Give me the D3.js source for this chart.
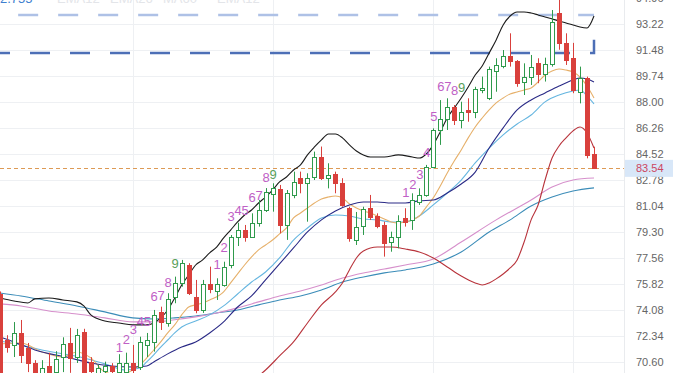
<!DOCTYPE html>
<html>
<head>
<meta charset="utf-8">
<script src="https://cdn.jsdelivr.net/npm/d3@7/dist/d3.min.js"></script>
<style>
  html, body { margin: 0; padding: 0; background: #fff; overflow: hidden; }
  svg { display: block; font-family: "Liberation Sans", Arial, sans-serif; }
</style>
</head>
<body>
<svg id="chart"></svg>
<script>
// candles, index 0..85 (left to right)
const opens = [75.15, 72.03, 71.71, 72.52, 71.51, 70.5, 69.5, 70.3, 69.9, 70.9,
  71.85, 70.9, 72.59, 70.6, 69.7, 70.0, 70.3, 69.9, 69.9, 70.51,
  70.27, 71.72, 71.94, 73.95, 73.21, 74.95, 75.89, 77.07, 74.95, 74.06,
  75.8, 75.35, 75.73, 77.07, 78.93, 79.42, 78.97, 79.86, 80.75, 81.82,
  82.14, 79.75, 81.76, 82.88, 82.58, 82.98, 84.28, 82.88, 83.16, 82.54,
  80.87, 78.75, 79.68, 80.87, 80.35, 79.75, 78.63, 78.97, 80.2, 80.08,
  81.31, 81.76, 83.65, 86.11, 86.82, 87.67, 86.78, 87.45, 87.33, 88.79,
  88.23, 90.08, 90.39, 91.06, 90.75, 89.33, 89.63, 90.62, 89.88, 90.51,
  93.94, 91.94, 90.91, 88.67, 89.57, 84.5];
const highs = [75.3, 72.37, 73.25, 73.39, 71.85, 70.7, 70.7, 71.2, 71.3, 72.23,
  72.86, 72.79, 72.8, 70.9, 70.4, 70.6, 70.5, 71.1, 71.2, 71.72,
  72.27, 72.52, 74.06, 74.28, 75.18, 76.29, 77.41, 77.19, 76.07, 76.07,
  76.96, 76.18, 77.29, 79.08, 79.9, 79.75, 80.53, 81.42, 82.22, 82.54,
  82.43, 82.09, 83.32, 83.32, 83.21, 84.66, 85.0, 83.88, 83.32, 82.88,
  80.97, 80.62, 80.97, 81.76, 80.53, 79.97, 79.3, 80.4, 80.87, 81.87,
  82.2, 83.77, 86.22, 88.11, 88.23, 87.78, 88.0, 88.23, 89.0, 89.68,
  90.35, 90.91, 91.46, 92.58, 90.79, 90.57, 91.13, 90.91, 90.95, 94.14,
  95.2, 92.58, 91.94, 90.35, 89.68, 84.99];
const lows = [69.8, 71.2, 70.91, 70.51, 69.9, 69.5, 69.3, 69.5, 69.6, 69.9,
  69.85, 70.51, 69.6, 69.7, 69.5, 69.7, 69.8, 69.7, 69.7, 69.84,
  70.04, 70.91, 71.27, 72.72, 72.94, 74.51, 75.62, 75.06, 73.84, 73.86,
  75.18, 74.73, 75.62, 76.85, 78.34, 78.63, 78.93, 79.64, 80.62, 80.64,
  79.19, 78.75, 81.54, 81.87, 79.97, 82.76, 82.76, 82.2, 81.87, 80.97,
  78.63, 78.41, 79.08, 80.08, 79.53, 77.63, 77.96, 78.19, 79.64, 79.42,
  81.09, 81.64, 83.55, 85.11, 86.11, 86.44, 86.22, 86.66, 86.9, 88.57,
  88.11, 88.67, 90.24, 90.35, 89.0, 88.45, 89.12, 89.24, 89.35, 90.35,
  91.48, 90.46, 88.57, 87.89, 84.21, 83.54];
const closes = [69.9, 71.56, 72.52, 71.05, 70.51, 69.7, 70.2, 69.9, 70.8, 71.77,
  70.85, 72.38, 69.9, 70.0, 70.2, 70.3, 70.0, 70.5, 70.5, 70.04,
  71.94, 72.05, 73.73, 73.28, 74.78, 75.89, 77.23, 75.22, 74.06, 75.8,
  75.45, 75.8, 76.96, 78.97, 79.42, 78.97, 79.86, 80.75, 81.96, 82.2,
  79.75, 81.87, 82.65, 82.54, 82.88, 84.32, 82.88, 83.1, 82.54, 81.09,
  78.86, 79.62, 80.8, 80.27, 79.68, 78.56, 78.97, 80.0, 79.97, 81.42,
  81.76, 83.65, 86.11, 86.82, 87.63, 86.78, 87.33, 87.3, 88.83, 88.9,
  90.17, 90.46, 91.06, 90.75, 89.27, 89.68, 90.35, 89.84, 90.51, 93.34,
  91.94, 90.79, 88.79, 89.57, 84.44, 83.54];

// indicator lines: [candle index, price]
const upperBand = [[0, 74.86], [2, 74.66], [4, 74.53], [5, 74.8], [7, 74.86], [9, 74.73],
  [11, 74.6], [12, 74.33], [13, 73.73], [15, 73.32], [17, 73.19], [19, 73.06], [21, 73.06],
  [22, 73.19], [23, 73.53], [24, 74.06], [25, 74.86], [26, 75.73], [27, 76.4], [28, 77.07],
  [29, 77.41], [30, 77.88], [31, 78.27], [32, 78.88], [33, 79.41], [34, 79.95], [35, 80.42],
  [36, 80.75], [37, 81.22], [38, 81.62], [39, 82.09], [40, 82.63], [41, 82.96], [42, 83.43],
  [43, 83.77], [44, 84.44], [45, 84.97], [46, 85.44], [47, 85.84], [48, 85.84], [49, 85.58],
  [50, 85.11], [51, 84.7], [52, 84.44], [53, 84.3], [55, 84.3], [57, 84.44], [59, 84.3],
  [60, 84.23], [61, 84.5], [62, 85.11], [63, 85.98], [64, 86.91], [65, 87.58], [66, 88.25],
  [67, 88.99], [68, 89.79], [69, 90.39], [70, 91.26], [71, 92.14], [72, 93.14], [73, 93.74],
  [74, 94.01], [75, 94.01], [76, 93.94], [77, 93.81], [78, 93.67], [79, 93.54], [80, 93.41],
  [81, 93.27], [82, 93.14], [83, 93.0], [84, 92.94], [85, 93.74]];
const midBand = [[0, 72.25], [2, 71.92], [5, 71.38], [10, 70.85], [13, 70.51], [16, 70.31],
  [19, 70.24], [21, 70.31], [22, 70.58], [24, 71.12], [26, 71.58], [28, 71.92], [30, 72.52],
  [32, 73.26], [34, 74.26], [36, 75.0], [38, 76.07], [40, 77.14], [42, 78.21], [44, 79.28],
  [46, 80.09], [48, 80.69], [50, 81.09], [52, 81.29], [54, 81.29], [56, 81.22], [58, 81.22],
  [60, 81.36], [62, 81.42], [64, 81.89], [66, 82.49], [68, 83.29], [70, 84.9], [72, 86.25],
  [74, 87.45], [76, 88.12], [78, 88.59], [80, 89.05], [82, 89.45], [83, 89.59], [84, 89.52],
  [85, 89.32]];
const lowerBand = [[37, 69.64], [38, 70.04], [40, 70.98], [42, 71.92], [44, 73.19], [46, 74.4],
  [48, 75.27], [49, 75.87], [50, 76.74], [51, 77.54], [52, 78.01], [54, 78.27], [56, 78.27],
  [58, 78.14], [60, 77.94], [62, 77.54], [64, 76.94], [66, 76.33], [68, 75.87], [69, 75.73],
  [70, 75.87], [71, 76.14], [72, 76.47], [73, 76.87], [74, 77.41], [75, 78.61], [76, 80.09],
  [77, 81.09], [78, 82.76], [79, 84.23], [80, 85.04], [81, 85.58], [82, 86.05], [83, 86.31],
  [84, 85.91], [85, 84.9]];
const ma5 = [[0, 71.78], [3, 71.85], [6, 71.25], [9, 70.91], [11, 71.25], [13, 70.85], [15, 69.91],
  [17, 69.71], [19, 70.04], [20, 70.38], [21, 70.85], [22, 71.38], [23, 71.92], [24, 72.52],
  [25, 73.06], [26, 73.73], [27, 74.26], [28, 74.4], [29, 74.53], [30, 74.73], [32, 75.27],
  [33, 75.87], [34, 76.47], [35, 77.07], [36, 77.61], [37, 78.08], [38, 78.41], [39, 78.74],
  [40, 79.15], [41, 79.55], [42, 80.22], [43, 80.55], [44, 80.89], [45, 81.22], [46, 81.49],
  [47, 81.62], [48, 81.69], [49, 81.56], [50, 81.16], [51, 80.89], [52, 80.69], [53, 80.55],
  [54, 80.35], [55, 80.15], [56, 79.95], [57, 79.88], [58, 79.95], [59, 80.09], [60, 80.35],
  [61, 80.95], [62, 81.56], [63, 82.36], [64, 83.23], [65, 84.03], [66, 84.77], [67, 85.58],
  [68, 86.31], [69, 86.91], [70, 87.45], [71, 87.92], [72, 88.25], [73, 88.52], [74, 88.65],
  [75, 88.79], [76, 88.92], [77, 89.32], [78, 89.79], [79, 90.06], [80, 90.19], [81, 90.12],
  [82, 89.99], [83, 89.65], [84, 89.05], [85, 88.25]];
const ma10 = [[0, 71.98], [3, 71.72], [6, 71.38], [9, 71.12], [12, 70.85], [15, 70.45], [18, 70.04],
  [20, 70.18], [21, 70.58], [22, 71.05], [23, 71.58], [24, 72.05], [25, 72.52], [26, 72.92],
  [28, 73.32], [30, 73.73], [32, 74.33], [34, 75.13], [36, 75.93], [38, 76.6], [40, 77.54],
  [42, 78.74], [44, 79.55], [46, 80.22], [48, 80.42], [50, 80.35], [52, 80.15], [54, 80.09],
  [56, 79.95], [58, 79.95], [60, 80.35], [62, 81.09], [64, 81.89], [66, 82.76], [68, 83.9],
  [70, 84.9], [72, 85.78], [74, 86.51], [76, 87.11], [78, 87.99], [80, 88.45], [82, 88.72],
  [83, 88.79], [84, 88.39], [85, 87.85]];
const ma60 = [[0, 74.47], [3, 74.33], [7, 73.99], [11, 73.79], [15, 73.53], [19, 73.26], [22, 73.26],
  [25, 73.4], [28, 73.6], [31, 73.86], [34, 74.2], [37, 74.6], [40, 75.0], [43, 75.33],
  [46, 75.73], [49, 76.2], [52, 76.54], [55, 76.8], [58, 77.07], [62, 77.47], [66, 78.61],
  [71, 80.09], [76, 81.42], [79, 82.29], [82, 82.76], [85, 82.89]];
const ma120 = [[0, 75.2], [3, 75.0], [7, 74.66], [11, 74.33], [15, 73.93], [19, 73.53], [22, 73.46],
  [25, 73.53], [28, 73.66], [31, 73.86], [34, 74.06], [37, 74.4], [40, 74.73], [43, 75.0],
  [46, 75.4], [49, 75.93], [52, 76.27], [55, 76.54], [58, 76.74], [62, 77.14], [66, 77.94],
  [70, 79.28], [73, 80.09], [76, 81.02], [79, 81.62], [82, 82.02], [85, 82.23]];

// TD count labels: [candle index, digit, price where the digit sits]
const tdLabels = [
  [17, "1", 71.58], [18, "2", 72.05], [19, "3", 72.72], [20, "4", 73.26], [21, "5", 73.32],
  [22, "6", 74.93], [23, "7", 75.06], [24, "8", 75.93], [25, "9", 77.14],
  [31, "1", 77.07], [32, "2", 78.27], [33, "3", 80.35], [34, "4", 80.69], [35, "5", 80.69],
  [36, "6", 81.62], [37, "7", 81.69], [38, "8", 82.96], [39, "9", 83.16],
  [58, "1", 81.89], [59, "2", 82.49], [60, "3", 83.1], [61, "4", 84.63], [62, "5", 86.98],
  [63, "6", 88.99], [64, "7", 88.99], [65, "8", 88.72], [66, "9", 88.92]];

const yTicks = ["70.60", "72.34", "74.08", "75.82", "77.56", "79.30", "81.04", "82.78",
  "84.52", "86.26", "88.00", "89.74", "91.48", "93.22", "94.96"];
const monthStarts = [19, 39, 62, 82];
const lastPrice = 83.54;
const lightLevel = { from: 2.6, to: 85, price: 93.8 };
const darkLevel = { from: 0, to: 85, price: 91.27, capTo: 92.15 };
const headerTexts = [["2.755", 0], ["EMA12", 57], ["EMA26", 110], ["MA60", 163], ["EMA12", 217]];

const width = 673, height = 373, plotRight = 624;
const up = "#2f9a4c", down = "#d9403c";

const x = d3.scaleLinear().domain([0, 85]).range([0, 594]);
const y = d3.scaleLinear().domain([69.84, 94.81]).range([height, 0]);

const svg = d3.select("#chart").attr("width", width).attr("height", height);

svg.append("defs").append("clipPath").attr("id", "plot")
  .append("rect").attr("width", plotRight).attr("height", height);

// grid
const grid = svg.append("g").attr("stroke", "#eef0f3").attr("stroke-width", 1);
grid.selectAll("line.h").data(yTicks).join("line").attr("class", "h")
  .attr("x1", 0).attr("x2", plotRight)
  .attr("y1", d => Math.round(y(+d)) + 0.5).attr("y2", d => Math.round(y(+d)) + 0.5);
grid.selectAll("line.v").data(monthStarts).join("line").attr("class", "v")
  .attr("x1", d => Math.round(x(d)) + 0.5).attr("x2", d => Math.round(x(d)) + 0.5)
  .attr("y1", 0).attr("y2", height);
svg.append("line").attr("x1", plotRight + 0.5).attr("x2", plotRight + 0.5)
  .attr("y1", 0).attr("y2", height).attr("stroke", "#e9ebee");

const plot = svg.append("g").attr("clip-path", "url(#plot)");

// level lines at the top
plot.append("path")
  .attr("d", `M${x(lightLevel.from)},${y(lightLevel.price)}H${x(lightLevel.to)}`)
  .attr("fill", "none").attr("stroke", "#aec1e6").attr("stroke-width", 2.5)
  .attr("stroke-dasharray", "20,20");
plot.append("path")
  .attr("d", `M${x(darkLevel.from)},${y(darkLevel.price)}H${x(darkLevel.to)}V${y(darkLevel.capTo)}`)
  .attr("fill", "none").attr("stroke", "#4d6fb6").attr("stroke-width", 2.5)
  .attr("stroke-dasharray", "20,20").attr("stroke-dashoffset", 10);

// last price dashed line
plot.append("line")
  .attr("x1", 0).attr("x2", plotRight)
  .attr("y1", Math.round(y(lastPrice)) + 0.5).attr("y2", Math.round(y(lastPrice)) + 0.5)
  .attr("stroke", "#dd9a55").attr("stroke-dasharray", "4,3");

// indicator lines
const line = d3.line().x(d => x(d[0])).y(d => y(d[1])).curve(d3.curveMonotoneX);
const series = [
  [ma120, "#3b8cb8"], [ma60, "#d68fcb"], [lowerBand, "#b8333b"],
  [ma10, "#66b6e0"], [ma5, "#e6b06a"], [midBand, "#2a2a86"], [upperBand, "#1b1b1b"]
];
plot.append("g").selectAll("path").data(series).join("path")
  .attr("d", d => line(d[0]))
  .attr("fill", "none").attr("stroke", d => d[1]).attr("stroke-width", 1.1);

// candles
const idx = d3.range(opens.length);
const cx = i => Math.round(x(i));
const candles = plot.append("g").selectAll("g").data(idx).join("g");
candles.append("line")
  .attr("x1", i => cx(i) + 0.5).attr("x2", i => cx(i) + 0.5)
  .attr("y1", i => y(highs[i])).attr("y2", i => y(lows[i]))
  .attr("stroke", i => closes[i] >= opens[i] ? up : down);
candles.append("rect")
  .attr("x", i => cx(i) - 1.5).attr("width", 4)
  .attr("y", i => Math.round(y(Math.max(opens[i], closes[i]))) + 0.5)
  .attr("height", i => Math.max(0.5, Math.round(y(Math.min(opens[i], closes[i]))) - Math.round(y(Math.max(opens[i], closes[i])))))
  .attr("fill", i => closes[i] >= opens[i] ? "#fff" : down)
  .attr("stroke", i => closes[i] >= opens[i] ? up : down);

// TD count digits
plot.append("g").selectAll("text").data(tdLabels).join("text")
  .attr("x", d => x(d[0]) + 0.5).attr("y", d => y(d[2]))
  .attr("text-anchor", "middle").attr("dominant-baseline", "central")
  .attr("font-size", 13)
  .attr("fill", d => d[1] === "9" ? "#58a05a" : "#c05fc6")
  .text(d => d[1]);

// header (cut off at the top, as in the source screenshot)
svg.append("g").selectAll("text").data(headerTexts).join("text")
  .attr("x", d => d[1]).attr("y", 3).attr("font-size", 13)
  .attr("fill", (d, i) => i === 0 ? "#3f7fcf" : "#e3e5e9")
  .text(d => d[0]);

// right axis
svg.append("g").selectAll("text").data(yTicks).join("text")
  .attr("x", 636).attr("y", d => y(+d))
  .attr("dominant-baseline", "central").attr("font-size", 11).attr("fill", "#666")
  .text(d => d);

const tag = svg.append("g");
tag.append("rect").attr("x", plotRight + 1).attr("y", y(lastPrice) - 8.5)
  .attr("width", width - plotRight - 1).attr("height", 17).attr("fill", "#d8e7f8");
tag.append("text").attr("x", 636).attr("y", y(lastPrice))
  .attr("dominant-baseline", "central").attr("font-size", 11).attr("fill", "#cc4660")
  .text(lastPrice.toFixed(2));
</script>
</body>
</html>
